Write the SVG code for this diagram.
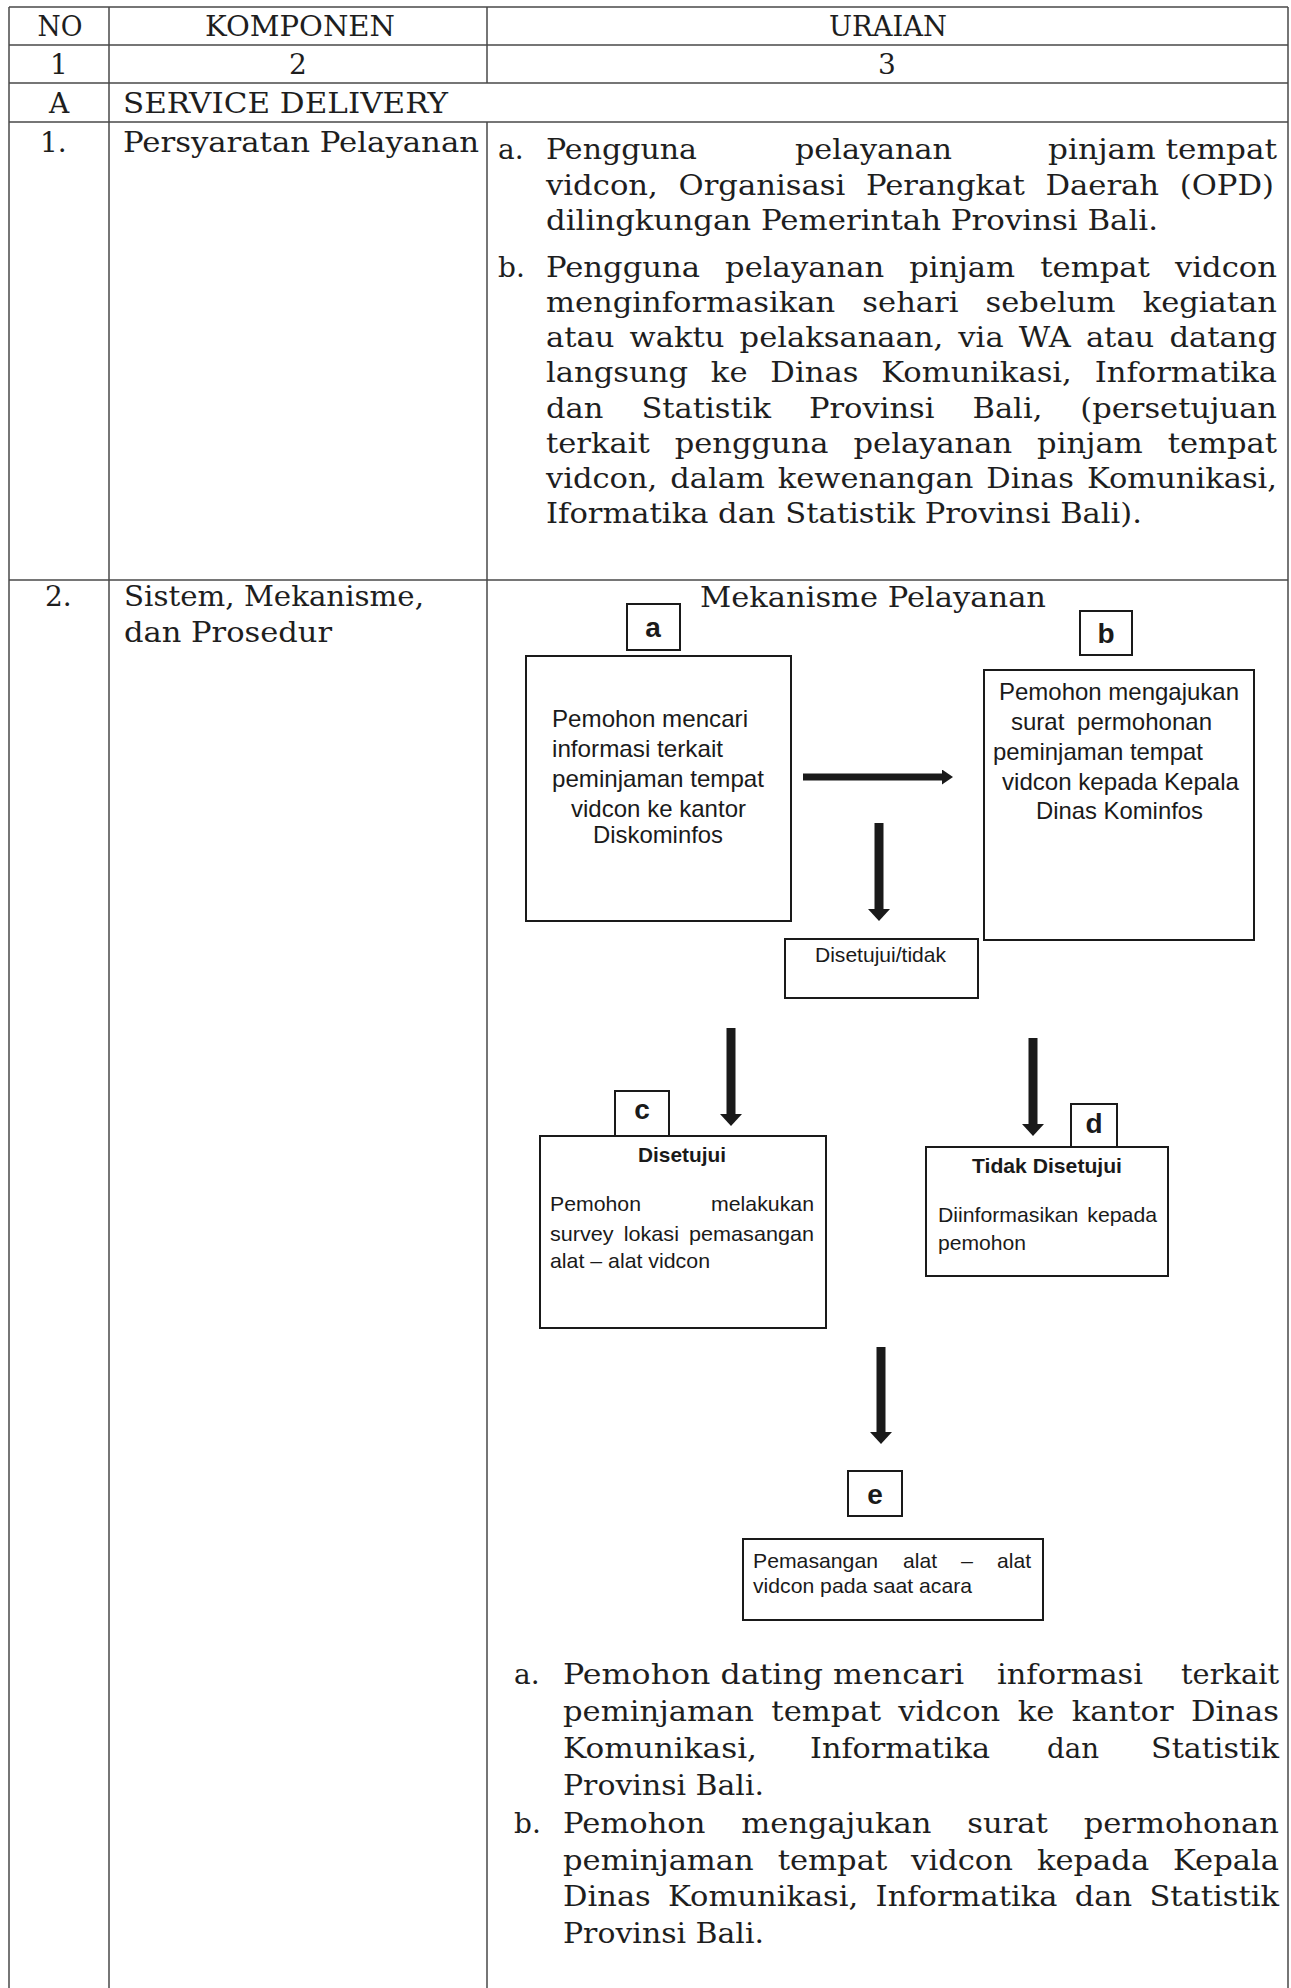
<svg xmlns="http://www.w3.org/2000/svg" width="1291" height="1988" viewBox="0 0 1291 1988">
<style>
.grid{stroke:#4a4a4a;stroke-width:1.5;fill:none}
.s{font-family:"DejaVu Serif","Liberation Serif",serif;font-size:28px;fill:#1e1e1e}
.f{font-family:"Liberation Sans",Arial,sans-serif;font-size:24px;fill:#1a1a1a}
.fs{font-size:21px}
.b{font-weight:bold}
.lbl{font-family:"Liberation Sans",Arial,sans-serif;font-size:28px;font-weight:bold;text-anchor:middle;fill:#1a1a1a}
.box{fill:#fff;stroke:#1a1a1a;stroke-width:2}
.arr{stroke:#1a1a1a;fill:none}
.c{text-anchor:middle}
</style>
<defs>
<marker id="hL" markerUnits="userSpaceOnUse" markerWidth="12" markerHeight="22" viewBox="0 0 12 22" refX="1" refY="11" orient="auto"><path d="M0,0 L12,11 L0,22 Z" fill="#1a1a1a"/></marker>
<marker id="hS" markerUnits="userSpaceOnUse" markerWidth="11" markerHeight="15" viewBox="0 0 11 15" refX="1" refY="7.5" orient="auto"><path d="M0,0 L11,7.5 L0,15 Z" fill="#1a1a1a"/></marker>
</defs>
<rect width="1291" height="1988" fill="#fff"/>

<g id="table">
<path class="grid" d="M9,7 H1288 M9,45 H1288 M9,83 H1288 M9,122 H1288 M9,580 H1288 M9,7 V1988 M109,7 V1988 M487,7 V83 M487,122 V1988 M1288,7 V1988"/>
<text class="s c" x="60" y="36" textLength="45" lengthAdjust="spacingAndGlyphs">NO</text>
<text class="s c" x="300" y="36" textLength="190" lengthAdjust="spacingAndGlyphs">KOMPONEN</text>
<text class="s c" x="888" y="36" textLength="118" lengthAdjust="spacingAndGlyphs">URAIAN</text>
<text class="s c" x="59" y="74">1</text>
<text class="s c" x="298" y="74">2</text>
<text class="s c" x="887" y="74">3</text>
<text class="s c" x="59" y="113">A</text>
<text class="s" x="123" y="113" textLength="325" lengthAdjust="spacingAndGlyphs">SERVICE DELIVERY</text>

<text class="s" x="40" y="152">1.</text>
<text class="s" x="123" y="152" textLength="356" lengthAdjust="spacingAndGlyphs">Persyaratan Pelayanan</text>

<text class="s" x="498" y="159">a.</text>
<text class="s" x="546" y="159" textLength="151" lengthAdjust="spacingAndGlyphs">Pengguna</text>
<text class="s" x="795" y="159" textLength="157" lengthAdjust="spacingAndGlyphs">pelayanan</text>
<text class="s" x="1048" y="159" textLength="229" lengthAdjust="spacingAndGlyphs">pinjam tempat</text>
<text class="s" x="546" y="195" textLength="728" lengthAdjust="spacingAndGlyphs" style="word-spacing:10px">vidcon, Organisasi Perangkat Daerah (OPD)</text>
<text class="s" x="546" y="230" textLength="612" lengthAdjust="spacingAndGlyphs">dilingkungan Pemerintah Provinsi Bali.</text>

<text class="s" x="498" y="277">b.</text>
<text class="s" x="546" y="277" textLength="731" lengthAdjust="spacingAndGlyphs" style="word-spacing:14px">Pengguna pelayanan pinjam tempat vidcon</text>
<text class="s" x="546" y="312" textLength="731" lengthAdjust="spacingAndGlyphs" style="word-spacing:16px">menginformasikan sehari sebelum kegiatan</text>
<text class="s" x="546" y="347" textLength="731" lengthAdjust="spacingAndGlyphs" style="word-spacing:5px">atau waktu pelaksanaan, via WA atau datang</text>
<text class="s" x="546" y="382" textLength="731" lengthAdjust="spacingAndGlyphs" style="word-spacing:12px">langsung ke Dinas Komunikasi, Informatika</text>
<text class="s" x="546" y="418" textLength="731" lengthAdjust="spacingAndGlyphs" style="word-spacing:26px">dan Statistik Provinsi Bali, (persetujuan</text>
<text class="s" x="546" y="453" textLength="731" lengthAdjust="spacingAndGlyphs" style="word-spacing:14px">terkait pengguna pelayanan pinjam tempat</text>
<text class="s" x="546" y="488" textLength="731" lengthAdjust="spacingAndGlyphs" style="word-spacing:3px">vidcon, dalam kewenangan Dinas Komunikasi,</text>
<text class="s" x="546" y="523" textLength="596" lengthAdjust="spacingAndGlyphs">Iformatika dan Statistik Provinsi Bali).</text>

<text class="s" x="45" y="606">2.</text>
<text class="s" x="124" y="606" textLength="300" lengthAdjust="spacingAndGlyphs">Sistem, Mekanisme,</text>
<text class="s" x="124" y="642" textLength="208" lengthAdjust="spacingAndGlyphs">dan Prosedur</text>
<text class="s" x="700" y="607" textLength="346" lengthAdjust="spacingAndGlyphs">Mekanisme Pelayanan</text>

<text class="s" x="514" y="1684">a.</text>
<text class="s" x="563" y="1684" textLength="401" lengthAdjust="spacingAndGlyphs">Pemohon dating mencari</text>
<text class="s" x="997" y="1684" textLength="146" lengthAdjust="spacingAndGlyphs">informasi</text>
<text class="s" x="1181" y="1684" textLength="98" lengthAdjust="spacingAndGlyphs">terkait</text>
<text class="s" x="563" y="1721" textLength="716" lengthAdjust="spacingAndGlyphs" style="word-spacing:7px">peminjaman tempat vidcon ke kantor Dinas</text>
<text class="s" x="563" y="1758" textLength="194" lengthAdjust="spacingAndGlyphs">Komunikasi,</text>
<text class="s" x="810" y="1758" textLength="180" lengthAdjust="spacingAndGlyphs">Informatika</text>
<text class="s" x="1047" y="1758" textLength="52" lengthAdjust="spacingAndGlyphs">dan</text>
<text class="s" x="1151" y="1758" textLength="128" lengthAdjust="spacingAndGlyphs">Statistik</text>
<text class="s" x="563" y="1795" textLength="201" lengthAdjust="spacingAndGlyphs">Provinsi Bali.</text>
<text class="s" x="514" y="1833">b.</text>
<text class="s" x="563" y="1833" textLength="716" lengthAdjust="spacingAndGlyphs" style="word-spacing:24px">Pemohon mengajukan surat permohonan</text>
<text class="s" x="563" y="1870" textLength="716" lengthAdjust="spacingAndGlyphs" style="word-spacing:13px">peminjaman tempat vidcon kepada Kepala</text>
<text class="s" x="563" y="1906" textLength="716" lengthAdjust="spacingAndGlyphs" style="word-spacing:7px">Dinas Komunikasi, Informatika dan Statistik</text>
<text class="s" x="563" y="1943" textLength="201" lengthAdjust="spacingAndGlyphs">Provinsi Bali.</text>
</g>

<g id="connectors">
<line class="arr" x1="803" y1="777" x2="943" y2="777" stroke-width="7" marker-end="url(#hS)"/>
<line class="arr" x1="879" y1="823" x2="879" y2="910" stroke-width="9" marker-end="url(#hL)"/>
<line class="arr" x1="731" y1="1028" x2="731" y2="1115" stroke-width="9" marker-end="url(#hL)"/>
<line class="arr" x1="1033" y1="1038" x2="1033" y2="1125" stroke-width="9" marker-end="url(#hL)"/>
<line class="arr" x1="881" y1="1347" x2="881" y2="1433" stroke-width="9" marker-end="url(#hL)"/>
</g>

<g id="node-a">
<rect class="box" x="627" y="604" width="53" height="46"/>
<text class="lbl" x="653" y="637">a</text>
<rect class="box" x="526" y="656" width="265" height="265"/>
<text class="f" x="552" y="727" textLength="196" lengthAdjust="spacingAndGlyphs">Pemohon mencari</text>
<text class="f" x="552" y="757" textLength="171" lengthAdjust="spacingAndGlyphs">informasi terkait</text>
<text class="f" x="552" y="787" textLength="212" lengthAdjust="spacingAndGlyphs">peminjaman tempat</text>
<text class="f" x="571" y="817" textLength="175" lengthAdjust="spacingAndGlyphs">vidcon ke kantor</text>
<text class="f" x="593" y="843" textLength="130" lengthAdjust="spacingAndGlyphs">Diskominfos</text>
</g>

<g id="node-b">
<rect class="box" x="1080" y="611" width="52" height="44"/>
<text class="lbl" x="1106" y="643">b</text>
<rect class="box" x="984" y="670" width="270" height="270"/>
<text class="f" x="999" y="700" textLength="240" lengthAdjust="spacingAndGlyphs">Pemohon mengajukan</text>
<text class="f" x="1011" y="730" textLength="201" lengthAdjust="spacingAndGlyphs" style="word-spacing:6px">surat permohonan</text>
<text class="f" x="993" y="760" textLength="210" lengthAdjust="spacingAndGlyphs">peminjaman tempat</text>
<text class="f" x="1002" y="790" textLength="237" lengthAdjust="spacingAndGlyphs">vidcon kepada Kepala</text>
<text class="f" x="1036" y="819" textLength="167" lengthAdjust="spacingAndGlyphs">Dinas Kominfos</text>
</g>

<g id="node-decision">
<rect class="box" x="785" y="939" width="193" height="59"/>
<text class="f fs" x="815" y="962" textLength="131" lengthAdjust="spacingAndGlyphs">Disetujui/tidak</text>
</g>

<g id="node-c">
<rect class="box" x="615" y="1091" width="54" height="45"/>
<text class="lbl" x="642" y="1119">c</text>
<rect class="box" x="540" y="1136" width="286" height="192"/>
<text class="f fs b c" x="682" y="1162" textLength="88" lengthAdjust="spacingAndGlyphs">Disetujui</text>
<text class="f fs" x="550" y="1211" textLength="91" lengthAdjust="spacingAndGlyphs">Pemohon</text>
<text class="f fs" x="711" y="1211" textLength="103" lengthAdjust="spacingAndGlyphs">melakukan</text>
<text class="f fs" x="550" y="1241" textLength="264" lengthAdjust="spacingAndGlyphs" style="word-spacing:4px">survey lokasi pemasangan</text>
<text class="f fs" x="550" y="1268" textLength="160" lengthAdjust="spacingAndGlyphs">alat – alat vidcon</text>
</g>

<g id="node-d">
<rect class="box" x="1071" y="1104" width="46" height="43"/>
<text class="lbl" x="1094" y="1133">d</text>
<rect class="box" x="926" y="1147" width="242" height="129"/>
<text class="f fs b c" x="1047" y="1173" textLength="150" lengthAdjust="spacingAndGlyphs">Tidak Disetujui</text>
<text class="f fs" x="938" y="1222" textLength="219" lengthAdjust="spacingAndGlyphs" style="word-spacing:3px">Diinformasikan kepada</text>
<text class="f fs" x="938" y="1250" textLength="88" lengthAdjust="spacingAndGlyphs">pemohon</text>
</g>

<g id="node-e">
<rect class="box" x="848" y="1471" width="54" height="45"/>
<text class="lbl" x="875" y="1504">e</text>
<rect class="box" x="743" y="1539" width="300" height="81"/>
<text class="f fs" x="753" y="1568" textLength="125" lengthAdjust="spacingAndGlyphs">Pemasangan</text>
<text class="f fs" x="903" y="1568" textLength="34" lengthAdjust="spacingAndGlyphs">alat</text>
<text class="f fs" x="961" y="1568" textLength="12" lengthAdjust="spacingAndGlyphs">–</text>
<text class="f fs" x="997" y="1568" textLength="34" lengthAdjust="spacingAndGlyphs">alat</text>
<text class="f fs" x="753" y="1593" textLength="219" lengthAdjust="spacingAndGlyphs">vidcon pada saat acara</text>
</g>
</svg>
